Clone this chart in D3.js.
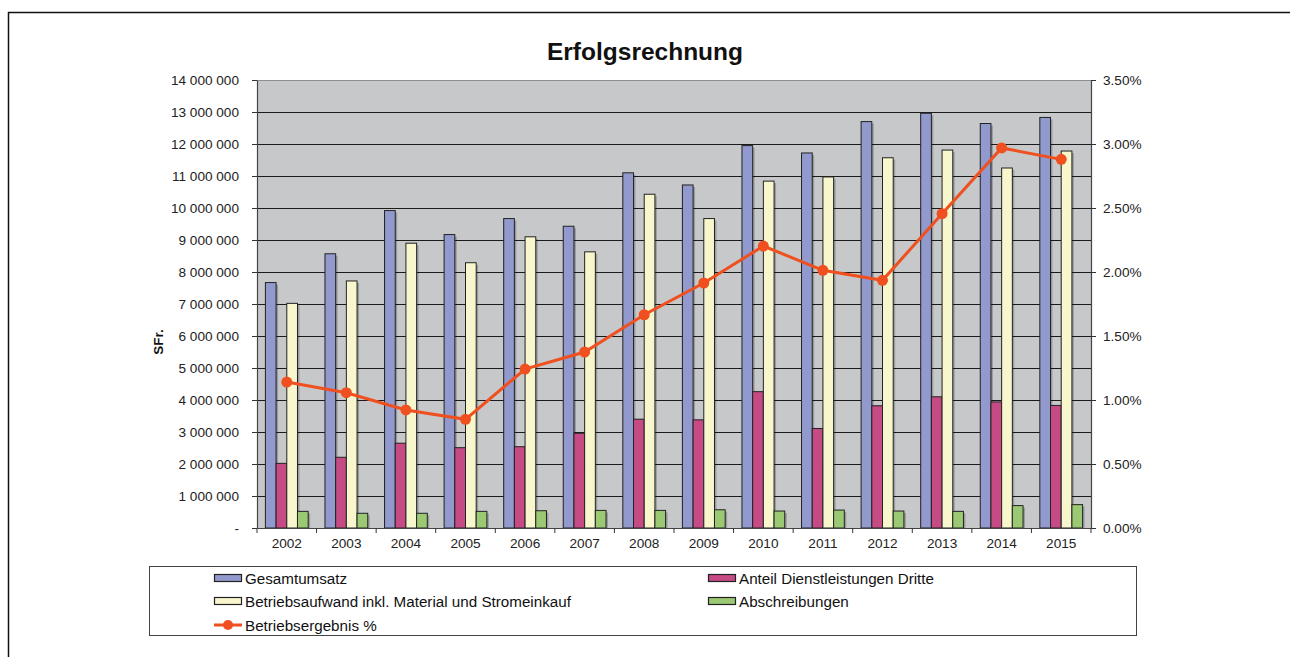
<!DOCTYPE html>
<html>
<head>
<meta charset="utf-8">
<script src="https://cdn.jsdelivr.net/npm/d3@7"></script>
<style>
  html, body { margin: 0; padding: 0; background: #fff; }
  svg { display: block; font-family: "Liberation Sans", Arial, sans-serif; }
</style>
</head>
<body>
<svg id="chart" width="1290" height="657"></svg>
<script>
const years = ["2002","2003","2004","2005","2006","2007","2008","2009","2010","2011","2012","2013","2014","2015"];
const gesamtumsatz = [7670000, 8570000, 9920000, 9170000, 9670000, 9430000, 11100000, 10720000, 11950000, 11720000, 12700000, 12960000, 12640000, 12830000];
const anteilDritte = [2020000, 2210000, 2650000, 2510000, 2540000, 2960000, 3400000, 3380000, 4260000, 3110000, 3820000, 4100000, 3940000, 3830000];
const betriebsaufwand = [7020000, 7720000, 8900000, 8290000, 9100000, 8630000, 10430000, 9670000, 10840000, 10970000, 11570000, 11810000, 11250000, 11780000];
const abschreibungen = [520000, 460000, 460000, 520000, 540000, 550000, 550000, 570000, 530000, 560000, 530000, 520000, 700000, 730000];
const betriebsergebnis = [0.01140, 0.01057, 0.00922, 0.00849, 0.01242, 0.01375, 0.01666, 0.01914, 0.02203, 0.02013, 0.01935, 0.02456, 0.02969, 0.02880];
const leftTicks = [0,1e6,2e6,3e6,4e6,5e6,6e6,7e6,8e6,9e6,10e6,11e6,12e6,13e6,14e6];
const rightTicks = [0,0.005,0.01,0.015,0.02,0.025,0.03,0.035];

const seriesNames = ["Gesamtumsatz","Anteil Dienstleistungen Dritte","Betriebsaufwand inkl. Material und Stromeinkauf","Abschreibungen"];
const seriesValues = [gesamtumsatz, anteilDritte, betriebsaufwand, abschreibungen];
const seriesColors = ["#9299cc","#c64b84","#f8f6cc","#9bc873"];
const lineName = "Betriebsergebnis %";
const lineColor = "#f0501f";

const svg = d3.select("#chart");
const L = 257, R = 1091, T = 80, B = 528;

// outer border
svg.append("line").attr("x1",8).attr("x2",1290).attr("y1",12.5).attr("y2",12.5).attr("stroke","#111").attr("stroke-width",1.5);
svg.append("line").attr("x1",8.5).attr("x2",8.5).attr("y1",12).attr("y2",657).attr("stroke","#111").attr("stroke-width",1.5);

// title
svg.append("text").attr("x",645).attr("y",60).attr("text-anchor","middle")
  .attr("font-size",24.5).attr("font-weight","bold").attr("fill","#111").text("Erfolgsrechnung");

const x = d3.scaleBand().domain(years).range([L,R]).padding(0);
const bw = x.bandwidth();
const xi = d3.scaleBand().domain(d3.range(4)).range([bw*0.141, bw*0.859]).padding(0);
const y = d3.scaleLinear().domain([0,14e6]).range([B,T]);
const y2 = d3.scaleLinear().domain([0,0.035]).range([B,T]);

// plot background
svg.append("rect").attr("x",L).attr("y",T).attr("width",R-L).attr("height",B-T).attr("fill","#c7c8ca");

// gridlines
svg.append("g").selectAll("line").data(leftTicks.filter(d=>d>0)).join("line")
  .attr("x1",L).attr("x2",R).attr("y1",d=>Math.round(y(d))+0.5).attr("y2",d=>Math.round(y(d))+0.5)
  .attr("stroke",d=>d===14e6?"#8e8f91":"#1a1a1a").attr("stroke-width",1);

const clip = svg.append("defs").append("clipPath").attr("id","pc");
clip.append("rect").attr("x",L).attr("y",T).attr("width",R-L).attr("height",B-T);

// bars
const barsG = svg.append("g").attr("clip-path","url(#pc)");
seriesValues.forEach((vals,si)=>{
  const g = barsG.append("g");
  g.selectAll("rect.sh").data(vals).join("rect").attr("class","sh")
    .attr("x",(d,i)=>x(years[i])+xi(si)+2).attr("y",d=>y(d)+2)
    .attr("width",xi.bandwidth()).attr("height",d=>B-y(d))
    .attr("fill","rgba(0,0,0,0.22)");
  g.selectAll("rect.b").data(vals).join("rect").attr("class","b")
    .attr("x",(d,i)=>x(years[i])+xi(si)).attr("y",d=>y(d))
    .attr("width",xi.bandwidth()).attr("height",d=>B-y(d))
    .attr("fill",seriesColors[si]).attr("stroke","#222").attr("stroke-width",1);
});

// axes
const fmtL = d => d===0 ? "-" : d3.format(",")(d).replace(/,/g," ");
const axL = svg.append("g").attr("transform",`translate(${L},0)`)
  .call(d3.axisLeft(y).tickValues(leftTicks).tickFormat(fmtL).tickSizeOuter(0).tickSizeInner(5).tickPadding(13));
const axR = svg.append("g").attr("transform",`translate(${R},0)`)
  .call(d3.axisRight(y2).tickValues(rightTicks).tickFormat(d3.format(".2%")).tickSizeOuter(0).tickSizeInner(5).tickPadding(7));
const axB = svg.append("g").attr("transform",`translate(0,${B})`)
  .call(d3.axisBottom(x).tickSize(0).tickSizeOuter(0).tickPadding(10));
// category separator ticks on x axis
svg.append("g").selectAll("line").data(d3.range(years.length+1)).join("line")
  .attr("x1",i=>L+i*bw).attr("x2",i=>L+i*bw).attr("y1",B).attr("y2",B+5)
  .attr("stroke","#333");
[axL,axR,axB].forEach(a=>{
  a.selectAll("path").attr("stroke","#444").attr("stroke-width",1.2);
  a.selectAll("line").attr("stroke","#333");
  a.selectAll("text").attr("font-size",13.6).attr("fill","#222").attr("font-family","'Liberation Sans', Arial, sans-serif");
});

// y-axis title
svg.append("text").attr("transform","translate(163,342) rotate(-90)").attr("text-anchor","middle")
  .attr("font-size",13.5).attr("font-weight","bold").attr("fill","#111").text("SFr.");

// line series
const lineGen = d3.line().x((d,i)=>x(years[i])+bw/2).y(d=>y2(d));
svg.append("path").datum(betriebsergebnis).attr("d",lineGen).attr("fill","none")
  .attr("stroke",lineColor).attr("stroke-width",3);
svg.append("g").selectAll("circle").data(betriebsergebnis).join("circle")
  .attr("cx",(d,i)=>x(years[i])+bw/2).attr("cy",d=>y2(d)).attr("r",5.5).attr("fill",lineColor);

// legend
svg.append("rect").attr("x",149.5).attr("y",566.5).attr("width",987).attr("height",69)
  .attr("fill","#fff").attr("stroke","#444").attr("stroke-width",1);
const legItems = [
  {name: seriesNames[0], color: seriesColors[0], x: 214, y: 578},
  {name: seriesNames[1], color: seriesColors[1], x: 708, y: 578},
  {name: seriesNames[2], color: seriesColors[2], x: 214, y: 601},
  {name: seriesNames[3], color: seriesColors[3], x: 708, y: 601}
];
const lg = svg.append("g");
legItems.forEach(it=>{
  lg.append("rect").attr("x",it.x+0.5).attr("y",it.y-3.5).attr("width",27).attr("height",7)
    .attr("fill",it.color).attr("stroke","#222").attr("stroke-width",1.2);
  lg.append("text").attr("x",it.x+31).attr("y",it.y+5.5).attr("font-size",15.2).attr("fill","#111").text(it.name);
});
lg.append("line").attr("x1",214).attr("x2",242).attr("y1",625).attr("y2",625).attr("stroke",lineColor).attr("stroke-width",3);
lg.append("circle").attr("cx",228).attr("cy",625).attr("r",5).attr("fill",lineColor);
lg.append("text").attr("x",245).attr("y",630.5).attr("font-size",15.2).attr("fill","#111").text(lineName);
</script>
</body>
</html>
